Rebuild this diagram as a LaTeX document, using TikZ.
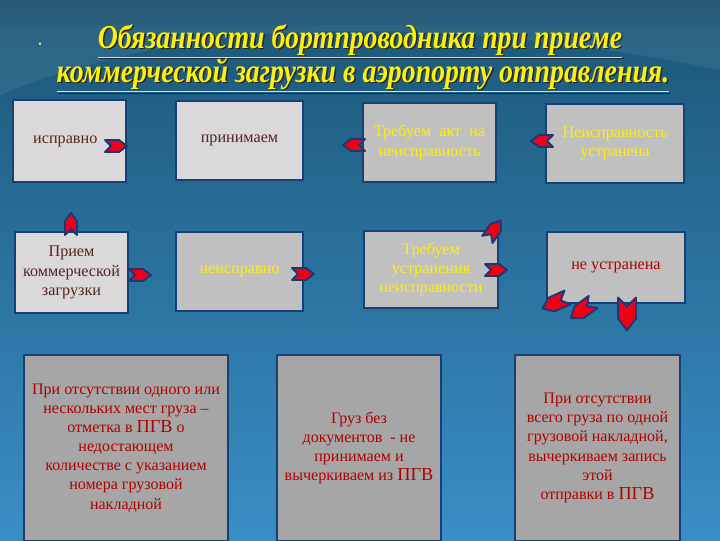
\documentclass[tikz,border=0pt]{standalone}
\usepackage{fontspec}
\setmainfont{Liberation Serif}
\definecolor{bgtop}{RGB}{27,86,118}
\definecolor{bgbot}{RGB}{58,142,198}
\definecolor{boxblue}{RGB}{22,64,118}
\definecolor{lightbox}{RGB}{218,216,216}
\definecolor{midbox}{RGB}{192,192,192}
\definecolor{darkbox}{RGB}{166,166,166}
\definecolor{browntxt}{RGB}{80,38,32}
\definecolor{redtxt}{RGB}{176,0,0}
\definecolor{arrred}{RGB}{240,0,20}
\definecolor{arrblue}{RGB}{24,56,120}

\tikzset{
    panel/.style={draw=boxblue, line width=1.5pt, align=center, inner sep=2pt},
    titletext/.style={anchor=base, inner sep=0pt, font=\fontsize{22}{24}\selectfont\bfseries\itshape},
    chevron/.pic={
        \filldraw[fill=arrred, draw=arrblue, line width=1.3pt, line join=round]
            (-11,-6) -- (3,-6) -- (11,0) -- (3,6) -- (-11,6) -- (-5,0) -- cycle;
    }
}

% box given by its corners in pixels
\newcommand{\Panel}[7]{
    \node (#1) [panel, #6, minimum width={(#4-#2)*0.025cm}, minimum height={(#5-#3)*0.025cm}]
        at ({(#2+#4)/2},{(#3+#5)/2}) {#7};
}
% title line (given by its baseline) with a dark shadow behind it
\newcommand{\TitleLine}[4]{
    \node (#1s) at (#2+1.5,#3+1.5) [titletext, text=black!85] {\scalebox{0.9}[1.08]{\underline{#4}}};
    \node (#1) at (#2,#3) [titletext, text=yellow] {\scalebox{0.9}[1.08]{\underline{#4}}};
}
\newcommand{\PGV}{{\fontsize{13}{13.5}\selectfont ПГВ}}

\begin{document}
\begin{tikzpicture}[x=0.025cm,y=-0.025cm]
    \useasboundingbox (0,0) rectangle (720,540);
    \shade[top color=bgtop, bottom color=bgbot] (0,0) rectangle (720,540);
    \fill[white, opacity=0.07] (0,95) .. controls (180,20) and (420,10) .. (720,70) -- (720,0) -- (0,0) -- cycle;
    \fill[black, opacity=0.06] (0,0) rectangle (720,25);

    % title
    \node (bullet) at (40,45) [text=yellow!60!white, font=\scriptsize] {•};
    \TitleLine{title1}{360}{48}{Обязанности бортпроводника при приеме}
    \TitleLine{title2}{363}{82}{коммерческой загрузки в аэропорту отправления.}

    % upper row
    \Panel{ok}{13}{100}{126}{182}{fill=lightbox, text=browntxt, font=\fontsize{11.5}{13.8}\selectfont}{исправно\hspace{6pt}}
    \Panel{accept}{176}{101}{303}{180}{fill=lightbox, text=browntxt, font=\fontsize{11.5}{13.8}\selectfont}{принимаем}
    \Panel{act}{363}{103}{496}{182}{fill=midbox, text=yellow, font=\fontsize{11.5}{13.8}\selectfont}{Требуем\ \ акт\ \ на\\неисправность}
    \Panel{fixed}{546}{104}{684}{183}{fill=midbox, text=yellow, font=\fontsize{11.5}{13.8}\selectfont}{Неисправность\\устранена}

    % middle row
    \Panel{load}{15}{232}{128}{313}{fill=lightbox, text=browntxt, font=\fontsize{11.5}{13.8}\selectfont}{Прием\\коммерческой\\загрузки}
    \Panel{faulty}{176}{232}{303}{311}{fill=midbox, text=yellow, font=\fontsize{11.5}{13.8}\selectfont}{неисправно}
    \Panel{repair}{364}{231}{498}{308}{fill=midbox, text=yellow, font=\fontsize{11.5}{13.8}\selectfont}{Требуем\\устранения\\неисправности}
    \Panel{notfixed}{547}{232}{685}{303}{fill=midbox, text=redtxt, font=\fontsize{11.5}{13.8}\selectfont}{не устранена}

    % lower row
    \Panel{part}{24}{355}{228}{541}{fill=darkbox, text=redtxt, font=\fontsize{11.4}{13.6}\selectfont}{При отсутствии одного или\\нескольких мест груза –\\отметка в \PGV{} о\\недостающем\\количестве с указанием\\номера грузовой\\накладной}
    \Panel{nodocs}{277}{355}{441}{541}{fill=darkbox, text=redtxt, font=\fontsize{11.4}{13.6}\selectfont}{Груз без\\документов\ \ - не\\принимаем и\\вычеркиваем из \PGV}
    \Panel{whole}{515}{355}{680}{541}{fill=darkbox, text=redtxt, font=\fontsize{11.4}{13.6}\selectfont}{При отсутствии\\всего груза по одной\\грузовой накладной,\\вычеркиваем запись\\этой\\отправки в \PGV}

    % arrows
    \pic at (116,146) {chevron};
    \pic[rotate=90] at (71,224) {chevron};
    \pic at (140,275) {chevron};
    \pic at (303,274) {chevron};
    \pic[rotate=180] at (354,145) {chevron};
    \pic[rotate=180] at (542,141) {chevron};
    \pic[rotate=55, scale=1.05] at (494,230) {chevron};
    \pic at (496,270) {chevron};
    \pic[rotate=204, scale=1.25] at (555,303) {chevron};
    \pic[rotate=216, scale=1.25] at (582,310) {chevron};
    \pic[rotate=270, scale=1.5] at (627,314) {chevron};
\end{tikzpicture}
\end{document}
